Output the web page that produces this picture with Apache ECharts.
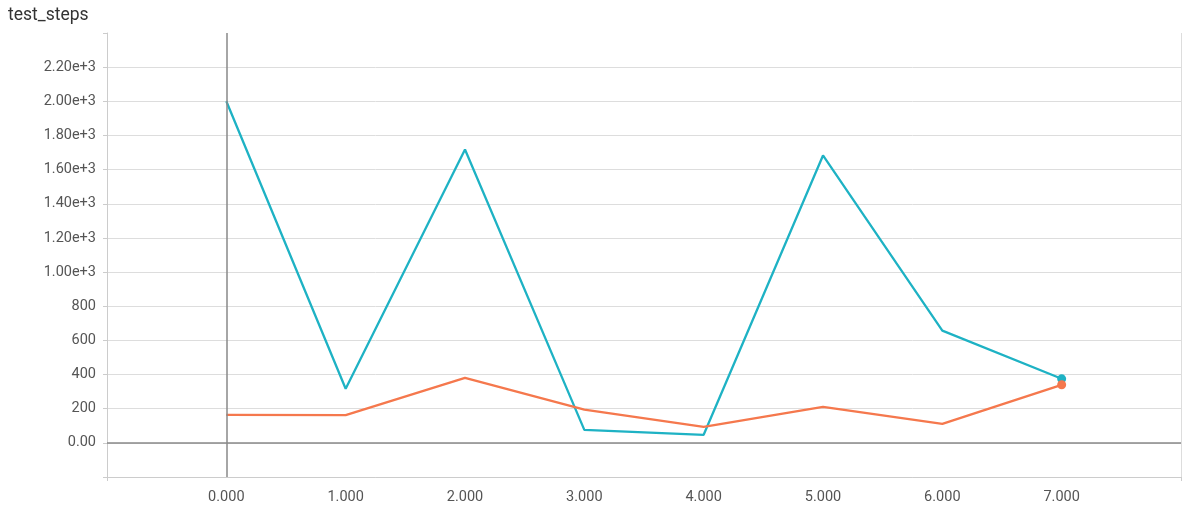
<!DOCTYPE html>
<html>
<head>
<meta charset="utf-8">
<script src="https://cdn.jsdelivr.net/npm/echarts@6/dist/echarts.min.js"></script>
<style>
html,body{margin:0;padding:0;background:#fff;}
#c{width:1196px;height:509px;}
</style>
</head>
<body>
<div id="c"></div>
<script>
const title = 'test_steps';
const steps = [0, 1, 2, 3, 4, 5, 6, 7];
const seriesA = [2000, 317, 1718, 76, 47, 1683, 657, 375];
const seriesB = [164, 162, 381, 194, 94, 211, 111, 340];
const colorA = '#1eb2c4';
const colorB = '#f5784d';

function pairs(vals){ return steps.map((s,i)=>[s, vals[i]]); }
function lastSym(vals){
  return function(v, p){ return p.dataIndex === vals.length - 1 ? 9 : 0; };
}
const chart = echarts.init(document.getElementById('c'));
chart.setOption({
  animation: false,
  title: {text: title, left: 3, top: 2, textStyle: {fontSize: 17.5, fontWeight: 'normal', color: '#333', fontFamily: 'Roboto'}},
  grid: {left: 107, right: 15, top: 33, bottom: 32},
  xAxis: {
    type: 'value', min: -1, max: 8, interval: 1,
    axisLine: {show: true, onZero: false, lineStyle: {color: '#ccc'}},
    axisTick: {show: true, length: 4, customValues: [-1, 8], lineStyle: {color: '#ccc'}},
    axisLabel: {color: '#555', fontSize: 14.5, fontFamily: 'Roboto', margin: 13,
      formatter: v => (v < 0 || v > 7) ? '' : v.toFixed(3)},
    splitLine: {show: true, lineStyle: {color: '#ddd', width: 1}}
  },
  yAxis: {
    type: 'value', min: -200, max: 2400, interval: 200,
    axisLine: {show: true, onZero: false, lineStyle: {color: '#ccc'}},
    axisTick: {show: true, length: 4, lineStyle: {color: '#ccc'}},
    axisLabel: {color: '#555', fontSize: 14.5, fontFamily: 'Roboto', margin: 11,
      formatter: v => {
        if (v < 0 || v > 2200) return '';
        if (v === 0) return '0.00';
        if (v < 1000) return String(v);
        return (v/1000).toFixed(2) + 'e+3';
      }},
    splitLine: {show: true, showMaxLine: false, lineStyle: {color: '#ddd', width: 1}}
  },
  series: [
    {
      type: 'line', data: pairs(seriesA), color: colorA,
      symbol: 'circle', symbolSize: lastSym(seriesA), showSymbol: true,
      lineStyle: {width: 2.3, color: colorA}, itemStyle: {color: colorA},
      silent: true, z: 3,
      markLine: {
        silent: true, symbol: ['none','none'], label: {show: false},
        lineStyle: {color: '#888', type: 'solid', width: 1.5},
        data: [{yAxis: 0}, {xAxis: 0}]
      }
    },
    {
      type: 'line', data: pairs(seriesB), color: colorB,
      symbol: 'circle', symbolSize: lastSym(seriesB), showSymbol: true,
      lineStyle: {width: 2.3, color: colorB}, itemStyle: {color: colorB},
      silent: true, z: 4
    }
  ]
});
</script>
</body>
</html>
